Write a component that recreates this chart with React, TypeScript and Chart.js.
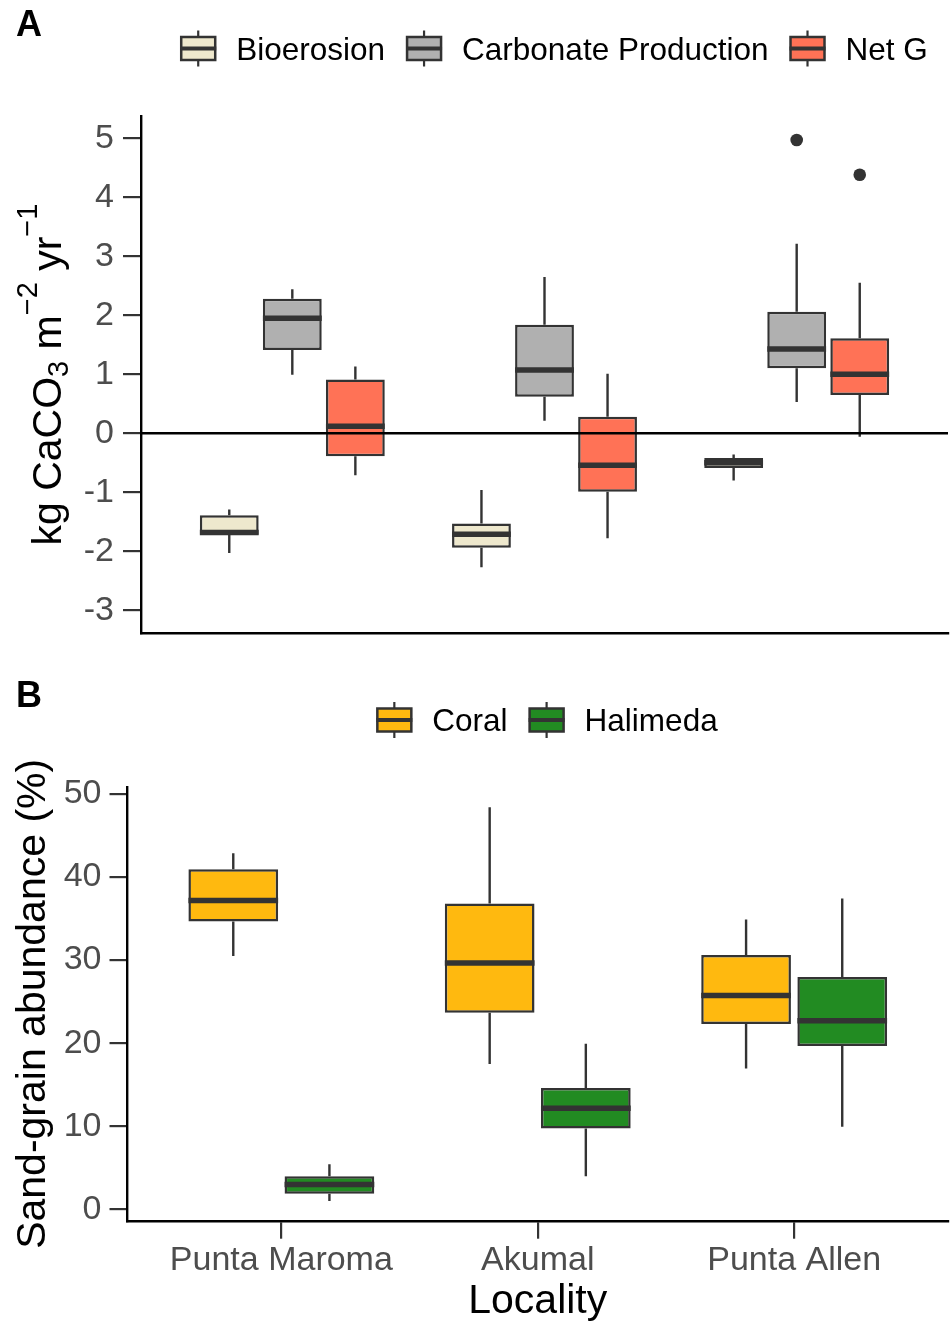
import React, { useEffect, useRef } from 'react';
import { Chart, registerables } from 'chart.js';

Chart.register(...registerables);

const FONT = '"Liberation Sans", Arial, Helvetica, sans-serif';

const localities = ['Punta Maroma', 'Akumal', 'Punta Allen'];

// Five-number summaries per locality: [lower whisker, Q1, median, Q3, upper whisker]
const bioerosion = [
  [-2.03, -1.72, -1.68, -1.39, -1.29],
  [-2.27, -1.94, -1.71, -1.53, -0.96],
  [-0.80, -0.59, -0.50, -0.42, -0.36],
];
const carbonateProduction = [
  [0.99, 1.41, 1.95, 2.28, 2.44],
  [0.21, 0.62, 1.07, 1.84, 2.65],
  [0.53, 1.10, 1.43, 2.06, 3.21],
];
const netG = [
  [-0.71, -0.39, 0.12, 0.91, 1.13],
  [-1.78, -0.99, -0.54, 0.28, 1.01],
  [-0.06, 0.65, 1.00, 1.61, 2.55],
];
const bioerosionOutliers = [[], [], []];
const carbonateOutliers = [[], [], [4.97]];
const netGOutliers = [[], [], [4.38]];

const coral = [
  [30.5, 34.64, 37.19, 40.95, 42.87],
  [17.49, 23.67, 29.64, 36.82, 48.41],
  [16.94, 22.31, 25.73, 30.63, 34.89],
];
const halimeda = [
  [0.99, 1.88, 2.99, 3.97, 5.42],
  [3.97, 9.73, 12.16, 14.59, 19.93],
  [9.94, 19.66, 22.69, 27.98, 37.41],
];
const noOutliers = [[], [], []];

const panelATicks = [-3, -2, -1, 0, 1, 2, 3, 4, 5];
const panelBTicks = [0, 10, 20, 30, 40, 50];

const colors = {
  bioerosion: '#EEE8CD',
  carbonate: '#B0B0B0',
  netG: '#FF7256',
  coral: '#FFB90F',
  halimeda: '#228B22',
};

function boxDataset(label: string, stats: number[][], outliers: number[][], color: string) {
  return {
    label,
    data: stats.map((s, i) => ({ x: i + 1, y: [s[1], s[3]] })),
    stats,
    outliers,
    backgroundColor: color,
    borderColor: '#333333',
    borderWidth: 2.5,
    borderSkipped: false,
    barPercentage: 0.933,
    categoryPercentage: 0.75,
  };
}

const boxPlugin = {
  id: 'boxExtras',
  afterDatasetsDraw(chart: any, _args: any, opts: any) {
    const ctx = chart.ctx;
    const y = chart.scales.y;
    ctx.save();
    chart.data.datasets.forEach((ds: any, di: number) => {
      const meta = chart.getDatasetMeta(di);
      meta.data.forEach((el: any, j: number) => {
        const s = ds.stats[j];
        const { x, width } = el.getProps(['x', 'width'], true);
        ctx.strokeStyle = '#333333';
        ctx.lineCap = 'butt';
        ctx.lineWidth = 2.4;
        ctx.beginPath();
        ctx.moveTo(x, y.getPixelForValue(s[3]));
        ctx.lineTo(x, y.getPixelForValue(s[4]));
        ctx.moveTo(x, y.getPixelForValue(s[1]));
        ctx.lineTo(x, y.getPixelForValue(s[0]));
        ctx.stroke();
        const ym = y.getPixelForValue(s[2]);
        ctx.lineWidth = 5.5;
        ctx.beginPath();
        ctx.moveTo(x - width / 2, ym);
        ctx.lineTo(x + width / 2, ym);
        ctx.stroke();
        ctx.fillStyle = '#333333';
        (ds.outliers[j] || []).forEach((v: number) => {
          ctx.beginPath();
          ctx.arc(x, y.getPixelForValue(v), 6.3, 0, Math.PI * 2);
          ctx.fill();
        });
      });
    });
    if (opts && opts.zeroLine) {
      const y0 = y.getPixelForValue(0);
      ctx.strokeStyle = '#000000';
      ctx.lineWidth = 2.4;
      ctx.beginPath();
      ctx.moveTo(chart.chartArea.left, y0);
      ctx.lineTo(chart.chartArea.right, y0);
      ctx.stroke();
    }
    ctx.restore();
  },
};

const decorPlugin = {
  id: 'panelDecor',
  afterDraw(chart: any, _args: any, opts: any) {
    const ctx = chart.ctx;
    ctx.save();
    ctx.fillStyle = '#000';
    ctx.textAlign = 'left';
    ctx.textBaseline = 'alphabetic';
    ctx.font = `bold 36px ${FONT}`;
    ctx.fillText(opts.tag, opts.tagX, opts.tagY);

    ctx.font = `31.5px ${FONT}`;
    const items = opts.items as { label: string; color: string }[];
    const gw = 36, gh = 23, gapT = 20, gapI = 21;
    const widths = items.map((it) => ctx.measureText(it.label).width);
    const total = widths.reduce((a, w) => a + gw + gapT + w, 0) + gapI * (items.length - 1);
    let x = opts.legendCX - total / 2;
    const cy = opts.legendCY;
    items.forEach((it, i) => {
      ctx.strokeStyle = '#333333';
      ctx.lineWidth = 2.2;
      ctx.beginPath();
      ctx.moveTo(x + gw / 2, cy - 18);
      ctx.lineTo(x + gw / 2, cy + 18);
      ctx.stroke();
      ctx.fillStyle = it.color;
      ctx.fillRect(x + 1, cy - gh / 2, gw - 2, gh);
      ctx.lineWidth = 2.5;
      ctx.strokeRect(x + 1, cy - gh / 2, gw - 2, gh);
      ctx.lineWidth = 4;
      ctx.beginPath();
      ctx.moveTo(x, cy);
      ctx.lineTo(x + gw, cy);
      ctx.stroke();
      ctx.fillStyle = '#000';
      ctx.fillText(it.label, x + gw + gapT, cy + 11.3);
      x += gw + gapT + widths[i] + gapI;
    });

    if (opts.richTitle) {
      const area = chart.chartArea;
      const segs = opts.richTitle as { t: string; size: number; dy: number }[];
      ctx.translate(opts.richTitleX, (area.top + area.bottom) / 2);
      ctx.rotate(-Math.PI / 2);
      let tw = 0;
      segs.forEach((sg) => {
        ctx.font = `${sg.size}px ${FONT}`;
        tw += ctx.measureText(sg.t).width;
      });
      let px = -tw / 2;
      segs.forEach((sg) => {
        ctx.font = `${sg.size}px ${FONT}`;
        ctx.fillText(sg.t, px, sg.dy);
        px += ctx.measureText(sg.t).width;
      });
    }
    ctx.restore();
  },
};

const tickFont = { family: FONT, size: 34 };

function xScale(showLabels: boolean, height: number) {
  return {
    type: 'linear',
    min: 0.4,
    max: 3.6,
    offset: false,
    afterBuildTicks: (s: any) => {
      s.ticks = localities.map((_, i) => ({ value: i + 1 }));
    },
    afterFit: (s: any) => {
      s.height = height;
    },
    ticks: {
      display: showLabels,
      color: '#4D4D4D',
      font: tickFont,
      padding: 2,
      maxRotation: 0,
      autoSkip: false,
      callback: (_v: any, i: number) => localities[i],
    },
    grid: {
      display: showLabels,
      offset: false,
      drawOnChartArea: false,
      drawTicks: true,
      tickLength: 18,
      color: '#333333',
      lineWidth: 2.2,
    },
    border: { display: true, color: '#000000', width: 2.4 },
    title: showLabels
      ? { display: true, text: 'Locality', color: '#000', font: { family: FONT, size: 41, lineHeight: 1 }, padding: { top: 0, bottom: 3 } }
      : { display: false },
  };
}

function yScale(min: number, max: number, ticks: number[], width: number, pad: number, title: any) {
  return {
    type: 'linear',
    min,
    max,
    afterBuildTicks: (s: any) => {
      s.ticks = ticks.map((v) => ({ value: v }));
    },
    afterFit: (s: any) => {
      s.width = width;
    },
    ticks: {
      color: '#4D4D4D',
      font: tickFont,
      padding: pad,
      callback: (v: any) => String(v),
    },
    grid: {
      display: true,
      drawOnChartArea: false,
      drawTicks: true,
      tickLength: 18,
      color: '#333333',
      lineWidth: 2.2,
    },
    border: { display: true, color: '#000000', width: 2.4 },
    title,
  };
}

function makeChartA(canvas: HTMLCanvasElement) {
  return new Chart(canvas, {
    type: 'bar',
    data: {
      datasets: [
        boxDataset('Bioerosion', bioerosion, bioerosionOutliers, colors.bioerosion),
        boxDataset('Carbonate Production', carbonateProduction, carbonateOutliers, colors.carbonate),
        boxDataset('Net G', netG, netGOutliers, colors.netG),
      ] as any,
    },
    options: {
      responsive: false,
      animation: false,
      events: [],
      layout: { padding: { left: 0, right: 3, top: 115.8, bottom: 36.7 } },
      plugins: {
        legend: { display: false },
        tooltip: { enabled: false },
        boxExtras: { zeroLine: true },
        panelDecor: {
          tag: 'A',
          tagX: 16,
          tagY: 35.7,
          legendCX: 554,
          legendCY: 48.5,
          items: [
            { label: 'Bioerosion', color: colors.bioerosion },
            { label: 'Carbonate Production', color: colors.carbonate },
            { label: 'Net G', color: colors.netG },
          ],
          richTitleX: 61,
          richTitle: [
            { t: 'kg CaCO', size: 41, dy: 0 },
            { t: '3', size: 29, dy: 7 },
            { t: ' m', size: 41, dy: 0 },
            { t: '\u22122', size: 29, dy: -24 },
            { t: ' yr', size: 41, dy: 0 },
            { t: '\u22121', size: 29, dy: -24 },
          ],
        },
      } as any,
      scales: {
        x: xScale(false, 0),
        y: yScale(-3.39, 5.38, panelATicks, 141, 9, { display: false }),
      } as any,
    },
    plugins: [boxPlugin, decorPlugin],
  } as any);
}

function makeChartB(canvas: HTMLCanvasElement) {
  return new Chart(canvas, {
    type: 'bar',
    data: {
      datasets: [
        boxDataset('Coral', coral, noOutliers, colors.coral),
        boxDataset('Halimeda', halimeda, noOutliers, colors.halimeda),
      ] as any,
    },
    options: {
      responsive: false,
      animation: false,
      events: [],
      layout: { padding: { left: 0, right: 3, top: 117, bottom: 0 } },
      plugins: {
        legend: { display: false },
        tooltip: { enabled: false },
        boxExtras: { zeroLine: false },
        panelDecor: {
          tag: 'B',
          tagX: 16,
          tagY: 37,
          legendCX: 547,
          legendCY: 50,
          items: [
            { label: 'Coral', color: colors.coral },
            { label: 'Halimeda', color: colors.halimeda },
          ],
        },
      } as any,
      scales: {
        x: xScale(true, 104.3),
        y: yScale(-1.37, 50.84, panelBTicks, 127.5, 8, {
          display: true,
          text: 'Sand-grain abundance (%)',
          color: '#000',
          font: { family: FONT, size: 41 },
          padding: { top: 9, bottom: 0 },
        }),
      } as any,
    },
    plugins: [boxPlugin, decorPlugin],
  } as any);
}

export default function App() {
  const refA = useRef<HTMLCanvasElement | null>(null);
  const refB = useRef<HTMLCanvasElement | null>(null);

  useEffect(() => {
    Chart.defaults.font.family = FONT;
    const a = refA.current ? makeChartA(refA.current) : null;
    const b = refB.current ? makeChartB(refB.current) : null;
    return () => {
      if (a) a.destroy();
      if (b) b.destroy();
    };
  }, []);

  return (
    <div style={{ position: 'absolute', left: 0, top: 0, width: 951, height: 1325, background: '#ffffff' }}>
      <canvas ref={refA} width={951} height={670} style={{ position: 'absolute', left: 0, top: 0, width: 951, height: 670 }} />
      <canvas ref={refB} width={951} height={655} style={{ position: 'absolute', left: 0, top: 670, width: 951, height: 655 }} />
    </div>
  );
}
